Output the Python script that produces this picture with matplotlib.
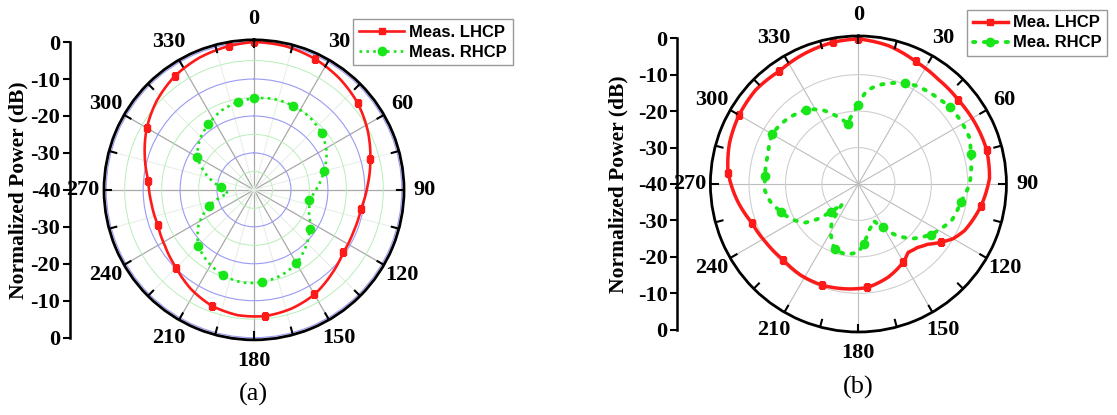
import matplotlib.pyplot as plt
import numpy as np

# ---- panel (a) data (deg, dB) ----
ang_a = [0, 12.5, 25, 37.5, 50, 62.5, 75, 87.5, 100, 112.5, 125, 137.5, 150, 162.5,
         175, 187.5, 200, 212.5, 225, 237.5, 250, 262.5, 275, 287.5, 300, 312.5,
         325, 337.5, 350, 360]
lhcp_a = [0.0, -0.2, -0.9, -2.0, -3.4, -5.3, -7.4, -9.2, -10.6, -10.8, -10.5, -9.0,
          -7.3, -6.3, -5.7, -5.8, -6.6, -8.2, -10.2, -11.5, -12.3, -12.0, -11.3, -9.0,
          -6.5, -4.3, -2.5, -1.3, -0.5, 0.0]
rhcp_a = [-15.2, -14.8, -14.9, -15.2, -16.1, -17.8, -20.4, -22.8, -24.9, -23.9, -21.6,
          -19.2, -17.0, -15.7, -14.9, -14.7, -15.4, -16.8, -18.6, -22.2, -26.9, -33.0,
          -30.9, -26.5, -22.3, -20.0, -18.4, -16.8, -15.8, -15.2]

# ---- panel (b) data ----
ang_b_l = [0, 12.5, 25, 37.5, 50, 62.5, 75, 87.5, 100, 113.7, 120, 125, 131, 137, 144,
           150, 162, 175, 180, 187.5, 200, 212.5, 225, 237.5, 250, 262.5, 275, 287.5,
           300, 312.5, 325, 337.5, 350, 360]
lhcp_b = [-0.2, -1.2, -2.9, -3.9, -4.2, -3.9, -3.6, -4.0, -5.8, -8.2, -10.0, -12.2,
          -14.8, -16.2, -16.8, -15.3, -13.2, -11.5, -11.3, -11.0, -10.5, -10.4, -10.7,
          -10.0, -8.9, -6.4, -4.1, -2.9, -2.2, -1.8, -2.2, -1.3, -0.5, -0.2]
ang_b_r = [0, 5, 12, 18, 25, 30, 37.5, 43, 50, 59, 67.5, 75, 90, 100, 111, 125, 135.5,
           144, 150, 157.5, 167.5, 175, 180, 190, 200, 208, 214, 219, 225, 229, 234,
           242, 250, 259, 266, 275, 288, 300, 312, 325, 334, 345, 350, 355, 360]
rhcp_b = [-18.4, -14.3, -12.2, -10.9, -9.5, -8.8, -8.2, -7.9, -7.2, -7.0, -7.0, -8.1,
          -9.5, -11.5, -12.5, -15.8, -19.0, -22.7, -26.3, -29.1, -26.9, -23.6, -21.3,
          -20.4, -20.9, -24.0, -26.8, -33.0, -29.3, -25.5, -22.0, -19.3, -17.5, -15.3,
          -14.3, -14.3, -13.9, -12.6, -13.5, -15.1, -17.4, -21.5, -23.2, -20.8, -18.4]

side_ticks = [-40, -30, -20, -10, 0, 10, 20, 30, 40]
side_labels = ['0', '-10', '-20', '-30', '-40', '-30', '-20', '-10', '0']

SERIF = 'Liberation Serif'
SANS = 'Liberation Sans'
RED = '#ff1a1a'
GREEN = '#19e619'
RTOP = 0.6


def marks(ang):
    return [i for i, a in enumerate(ang) if a % 25 == 0 and a < 360]


def smooth(line):
    # draw segments as arcs in the polar projection
    line.get_path()._interpolation_steps = 12


fig = plt.figure(figsize=(11.17, 4.15), dpi=100)


def polar_panel(rect, style):
    ax = fig.add_axes(rect, projection='polar')
    ax.set_theta_zero_location('N')
    ax.set_theta_direction(-1)
    ax.set_ylim(-40, RTOP)
    ax.set_xticks(np.deg2rad(np.arange(0, 360, 30)))
    ax.set_xticklabels([str(a) for a in range(0, 360, 30)],
                       fontfamily=SERIF, fontweight='bold', fontsize=16)
    ax.set_xticks(np.deg2rad(np.arange(15, 360, 30)), minor=True)
    ax.tick_params(axis='x', which='both', length=0, pad=8)
    ax.spines['polar'].set_linewidth(2)
    if style == 'a':
        ax.set_yticks([-30, -20, -10, 0])
        ax.set_yticks([-35, -25, -15, -5], minor=True)
        ax.yaxis.grid(True, which='major', color='#9a9af5', lw=0.8)
        ax.yaxis.grid(True, which='minor', color='#b8eeb8', lw=0.7)
        ax.xaxis.grid(True, which='major', color='#a8a8a8', lw=0.9)
        ax.xaxis.grid(True, which='minor', color='#e4eee4', lw=0.7)
    else:
        ax.set_yticks([-30, -20, -10])
        ax.yaxis.grid(True, color='#cfcfcf', lw=0.8)
        ax.xaxis.grid(True, which='major', color='#bdbdbd', lw=0.8)
        ax.xaxis.grid(False, which='minor')
    ax.set_yticklabels([])
    ax.set_yticklabels([], minor=True)
    # short black ticks on the rim every 15 deg
    for t in np.deg2rad(np.arange(0, 360, 15)):
        ax.plot([t, t], [RTOP - 2.0, RTOP], color='black', lw=1.5, zorder=5)
    return ax


def side_axis(rect, lab_x):
    sx = fig.add_axes(rect)
    sx.set_ylim(-40.6, 40.6)
    sx.set_xticks([])
    for s in ['top', 'right', 'bottom']:
        sx.spines[s].set_visible(False)
    sx.spines['left'].set_linewidth(1.8)
    sx.spines['left'].set_bounds(-40, 40)
    sx.patch.set_alpha(0)
    sx.set_yticks(side_ticks)
    sx.set_yticklabels(side_labels, fontfamily=SERIF, fontweight='bold', fontsize=16)
    sx.tick_params(axis='y', direction='out', length=5, width=1.5, pad=2)
    sx.set_ylabel('Normalized Power (dB)', fontfamily=SERIF, fontweight='bold', fontsize=15.5)
    sx.yaxis.set_label_coords(lab_x, 0.5)
    return sx


leg_kw = dict(bbox_transform=fig.transFigure, loc='upper left', fancybox=False,
              prop={'family': SANS, 'weight': 'bold', 'size': 12},
              edgecolor='#999999', borderpad=0.35, labelspacing=0.3, framealpha=1)

# (a)
axa = polar_panel([0.0931, 0.181, 0.2686, 0.723], 'a')
la, = axa.plot(np.deg2rad(ang_a), lhcp_a, color=RED, lw=1.9, marker='s', ms=4.5,
               markevery=marks(ang_a), label='Meas. LHCP')
ra, = axa.plot(np.deg2rad(ang_a), rhcp_a, color=GREEN, lw=1.9, ls=(0, (1, 1.6)), marker='o',
               ms=6, markevery=marks(ang_a), label='Meas. RHCP')
smooth(la)
smooth(ra)
side_axis([0.0627, 0.181, 0.001, 0.723], -37)
axa.legend(bbox_to_anchor=(0.309, 0.975), handlelength=2.7, handletextpad=0.3, **leg_kw)
fig.text(253 / 1117, 1 - 394 / 415, '(a)', ha='center', va='center',
         fontfamily=SERIF, fontsize=19)

# (b)
axb = polar_panel([0.6360, 0.2, 0.2650, 0.7133], 'b')
lb, = axb.plot(np.deg2rad(ang_b_l), lhcp_b, color=RED, lw=2.5, marker='s', ms=4,
               markevery=marks(ang_b_l), label='Mea. LHCP')
rb, = axb.plot(np.deg2rad(ang_b_r), rhcp_b, color=GREEN, lw=2.8, ls=(0, (0.6, 2.2)),
               dash_capstyle='round', marker='o', ms=6, markevery=marks(ang_b_r),
               label='Mea. RHCP')
smooth(lb)
smooth(rb)
side_axis([0.6065, 0.2, 0.001, 0.7133], -44)
axb.legend(bbox_to_anchor=(0.858, 0.997), handlelength=2.1, handletextpad=0.3, **leg_kw)
fig.text(858 / 1117, 1 - 387 / 415, '(b)', ha='center', va='center',
         fontfamily=SERIF, fontsize=19)

fig.savefig('out.png', dpi=100)
